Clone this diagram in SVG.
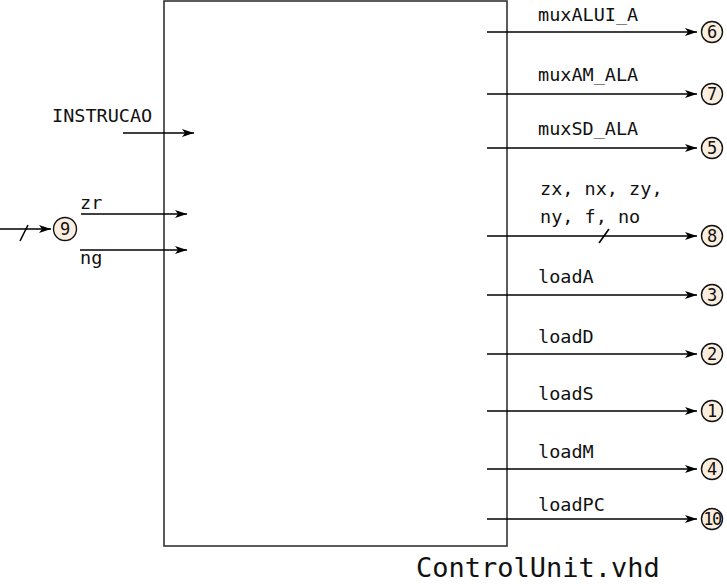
<svg xmlns="http://www.w3.org/2000/svg" width="727" height="584" viewBox="0 0 727 584">
<style>
.lbl{font-family:"DejaVu Sans Mono","Liberation Mono",monospace;font-size:18.5px;fill:#111}
.num{font-family:"DejaVu Sans Mono","Liberation Mono",monospace;font-size:17px;fill:#111;text-anchor:middle}
.title{font-family:"DejaVu Sans Mono","Liberation Mono",monospace;font-size:27px;fill:#111}
.wire{stroke:#000;stroke-width:1.6;fill:none}
.port{fill:#fbeedf;stroke:#111;stroke-width:1.4}
</style>
<defs>
<marker id="ah" viewBox="0 0 12 8" refX="12" refY="4" markerWidth="12" markerHeight="8" markerUnits="userSpaceOnUse" orient="auto">
<path d="M0,0 L12,4 L0,8 L3,4 Z" fill="#000"/>
</marker>
</defs>
<rect width="727" height="584" fill="#fff"/>
<g id="control-unit">
<rect x="164" y="1" width="343" height="545" fill="none" stroke="#333" stroke-width="1.6"/>
<text class="title" x="416" y="577">ControlUnit.vhd</text>
</g>
<g id="connectors">
<line class="wire" x1="123" y1="133" x2="194" y2="133" marker-end="url(#ah)"/>
<line class="wire" x1="81" y1="214" x2="187" y2="214" marker-end="url(#ah)"/>
<line class="wire" x1="80" y1="250" x2="187" y2="250" marker-end="url(#ah)"/>
<line class="wire" x1="0" y1="229" x2="51" y2="229" marker-end="url(#ah)"/>
<line class="wire" x1="20" y1="241" x2="28" y2="225"/>
<line class="wire" x1="487" y1="32" x2="697" y2="32" marker-end="url(#ah)"/>
<line class="wire" x1="487" y1="94" x2="697" y2="94" marker-end="url(#ah)"/>
<line class="wire" x1="487" y1="148" x2="697" y2="148" marker-end="url(#ah)"/>
<line class="wire" x1="487" y1="236" x2="697" y2="236" marker-end="url(#ah)"/>
<line class="wire" x1="599" y1="243" x2="609" y2="229"/>
<line class="wire" x1="487" y1="295" x2="697" y2="295" marker-end="url(#ah)"/>
<line class="wire" x1="487" y1="354" x2="697" y2="354" marker-end="url(#ah)"/>
<line class="wire" x1="487" y1="411" x2="697" y2="411" marker-end="url(#ah)"/>
<line class="wire" x1="487" y1="469" x2="697" y2="469" marker-end="url(#ah)"/>
<line class="wire" x1="487" y1="519" x2="697" y2="519" marker-end="url(#ah)"/>
</g>
<g id="in-instrucao"><text class="lbl" x="52" y="122">INSTRUCAO</text></g>
<g id="in-zr"><text class="lbl" x="80" y="209">zr</text></g>
<g id="in-ng"><text class="lbl" x="80" y="264">ng</text></g>
<g id="port-9"><circle class="port" cx="65" cy="229" r="11.5"/><text class="num" x="65" y="235">9</text></g>
<g id="out-muxALUI_A"><text class="lbl" x="538" y="21">muxALUI_A</text><circle class="port" cx="712" cy="32" r="10.5"/><text class="num" x="712" y="38">6</text></g>
<g id="out-muxAM_ALA"><text class="lbl" x="538" y="81">muxAM_ALA</text><circle class="port" cx="712" cy="94" r="10.5"/><text class="num" x="712" y="100">7</text></g>
<g id="out-muxSD_ALA"><text class="lbl" x="538" y="135">muxSD_ALA</text><circle class="port" cx="712" cy="148" r="10.5"/><text class="num" x="712" y="154">5</text></g>
<g id="out-alu"><text class="lbl" x="540" y="195">zx, nx, zy,</text><text class="lbl" x="540" y="223">ny, f, no</text><circle class="port" cx="712" cy="236" r="10.5"/><text class="num" x="712" y="242">8</text></g>
<g id="out-loadA"><text class="lbl" x="538" y="283">loadA</text><circle class="port" cx="712" cy="295" r="10.5"/><text class="num" x="712" y="301">3</text></g>
<g id="out-loadD"><text class="lbl" x="538" y="343">loadD</text><circle class="port" cx="712" cy="354" r="10.5"/><text class="num" x="712" y="360">2</text></g>
<g id="out-loadS"><text class="lbl" x="538" y="400">loadS</text><circle class="port" cx="712" cy="411" r="10.5"/><text class="num" x="712" y="417">1</text></g>
<g id="out-loadM"><text class="lbl" x="538" y="458">loadM</text><circle class="port" cx="712" cy="469" r="10.5"/><text class="num" x="712" y="475">4</text></g>
<g id="out-loadPC"><text class="lbl" x="538" y="511">loadPC</text><circle class="port" cx="712" cy="519" r="10.5"/><text class="num" x="712" y="525" style="letter-spacing:-1.5px">10</text></g>
</svg>
